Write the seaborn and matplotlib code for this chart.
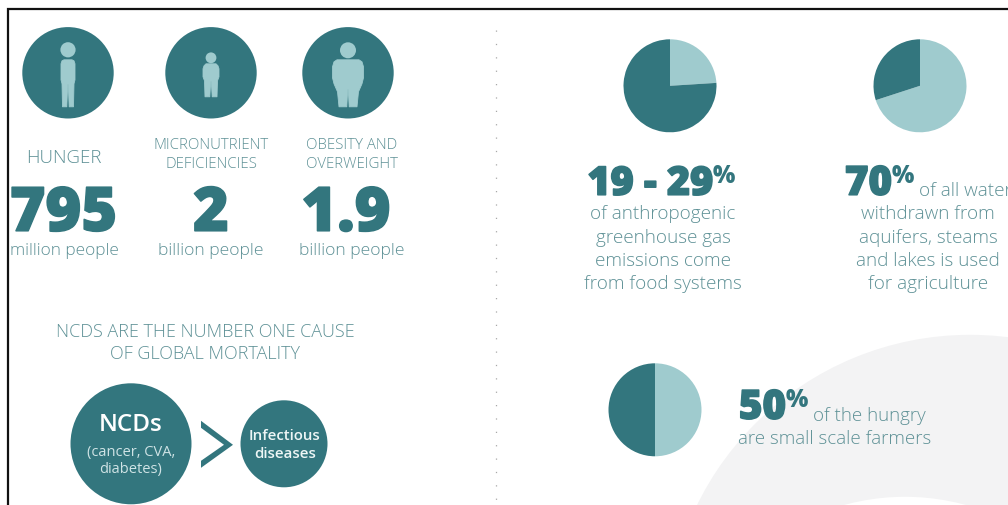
import matplotlib
matplotlib.use("Agg")
import matplotlib.pyplot as plt
import matplotlib.patheffects as pe
from matplotlib.patches import Circle, Polygon
import seaborn as sns

sns.set_theme(style="white")
plt.rcParams['font.family'] = ['Open Sans', 'DejaVu Sans']

DARK, LIGHT = sns.color_palette(["#33767e", "#9fcbce"])
TXT = "#5e9196"

group_labels = ["HUNGER", "MICRONUTRIENT\nDEFICIENCIES", "OBESITY AND\nOVERWEIGHT"]
group_numbers = ["795", "2", "1.9"]
group_units = ["million people", "billion people", "billion people"]

pie_emissions = [24, 76]
pie_water = [70, 30]
pie_farmers = [50, 50]

H = 506
def Y(p):
    return H - p - 0.8

fig = plt.figure(figsize=(10.08, 5.06), dpi=100)
ax = fig.add_axes([0, 0, 1, 1])
ax.set_axis_off()

# background blobs
ax.add_patch(Circle((970, Y(639)), 304, fc="#f3f3f4", ec="none", zorder=0))
ax.add_patch(Circle((905, Y(727)), 230, fc="white", ec="none", zorder=0.5))

def person(cx, head_y, hr, outline, slit_y, bottom):
    ax.add_patch(Circle((cx, Y(head_y)), hr, fc=LIGHT, ec="none", zorder=3))
    right = [(cx + w, Y(y)) for y, w in outline]
    left = [(cx - w, Y(y)) for y, w in reversed(outline)]
    slit = [(cx + 1.2, Y(bottom)), (cx + 0.3, Y(slit_y)), (cx - 0.3, Y(slit_y)), (cx - 1.2, Y(bottom))]
    ax.add_patch(Polygon(right + slit + left, closed=True, fc=LIGHT, ec=LIGHT, lw=0.6,
                         joinstyle="round", zorder=3))

icon_x = [68, 211, 348]
for x in icon_x:
    ax.add_patch(Circle((x, Y(73)), 45.7, fc=DARK, ec="none", zorder=2))
person(68, 50, 7.6, [(60, 4), (61, 6), (64, 7), (80, 7), (84, 6), (107, 5.5)], 85, 107)
person(211, 58, 5.4, [(64, 5), (66, 7), (69, 8), (77, 8), (81, 6.5), (97, 6)], 82, 97)
person(348, 50.5, 8, [(60, 11), (62, 14), (67, 15.5), (78, 15.5), (84, 14), (92, 10.5), (107, 9)], 90, 107)

def T(x, y, s, size, color=TXT, weight="light", ha="center", va="center", heavy=False, **k):
    t = ax.text(x, Y(y), s, fontsize=size, color=color, fontweight=weight, ha=ha, va=va, zorder=5, **k)
    if heavy:
        t.set_path_effects([pe.withStroke(linewidth=1.1, foreground=color)])
    return t

T(64, 157, group_labels[0], 13.5)
T(211, 154.5, group_labels[1], 10.8, linespacing=1.33)
T(352, 154.5, group_labels[2], 10.8, linespacing=1.33)
T(63.5, 231, group_numbers[0], 44, DARK, 800, va="baseline", heavy=True)
T(211, 231, group_numbers[1], 44, DARK, 800, va="baseline", heavy=True)
T(346, 231, group_numbers[2], 44, DARK, 800, va="baseline", heavy=True)
T(64, 250, group_units[0], 12.4)
T(211, 250, group_units[1], 12.6)
T(352, 250, group_units[2], 12.6)

T(205, 342, "NCDS ARE THE NUMBER ONE CAUSE\nOF GLOBAL MORTALITY", 13, linespacing=1.29)

ax.add_patch(Circle((131, Y(444)), 60.5, fc=DARK, ec="none", zorder=2))
ax.add_patch(Circle((284, Y(444)), 43.5, fc=DARK, ec="none", zorder=2))
ax.add_patch(Polygon([(201, Y(421)), (233, Y(445)), (201, Y(468)), (201, Y(461)), (224, Y(445)), (201, Y(428))],
                     closed=True, fc=DARK, ec="none", zorder=2))
T(131, 424, "NCDs", 17.5, "white", 600)
T(131, 460.5, "(cancer, CVA,\ndiabetes)", 10.5, "#cfe3e5", "normal", linespacing=1.2)
T(285, 444.5, "Infectious\ndiseases", 10.8, "#eef6f6", 600, linespacing=1.35)

# dotted divider
ax.plot([496, 496], [Y(30), Y(506)], color="#a8a8a8", lw=0.9, ls=(0, (1, 9.7)), zorder=1)

# pies
def pie(vals, cols, cx, cy):
    ax.pie(vals, colors=cols, startangle=90, counterclock=False, center=(cx, Y(cy)), radius=46.5,
           frame=True, wedgeprops=dict(linewidth=0, zorder=3))

pie(pie_emissions, [LIGHT, DARK], 670, 86)
pie(pie_water, [LIGHT, DARK], 920, 86)
pie(pie_farmers, [LIGHT, DARK], 655, 410)

# headline figures with their raised percent signs
T(713, 195, "19 - 29", 28.5, DARK, 800, ha="right", va="baseline", heavy=True)
T(713, 182, "%", 17, DARK, 800, ha="left", va="baseline")
T(663, 248.5, "of anthropogenic\ngreenhouse gas\nemissions come\nfrom food systems", 13.6, linespacing=1.39)

T(892, 195, "70", 29, DARK, 800, ha="right", va="baseline", heavy=True)
T(892, 182, "%", 17, DARK, 800, ha="left", va="baseline")
T(919, 195, "of all water", 13.6, ha="left", va="baseline")
T(928, 248.5, "withdrawn from\naquifers, steams\nand lakes is used\nfor agriculture", 13.6, linespacing=1.39)

T(786, 419, "50", 29, DARK, 800, ha="right", va="baseline", heavy=True)
T(786, 406, "%", 17, DARK, 800, ha="left", va="baseline")
T(813, 420, "of the hungry", 13.5, ha="left", va="baseline")
T(738, 443, "are small scale farmers", 13.5, ha="left", va="baseline")

# frame
ax.plot([7.8, 7.8, 1008], [Y(506), Y(8.7), Y(8.7)], color="#111111", lw=1.6, zorder=6, solid_joinstyle="miter")

ax.set_xlim(0, 1008)
ax.set_ylim(0, 506)
ax.set_aspect("auto")
ax.set_axis_off()
fig.savefig("out.png", dpi=100, facecolor="white")
